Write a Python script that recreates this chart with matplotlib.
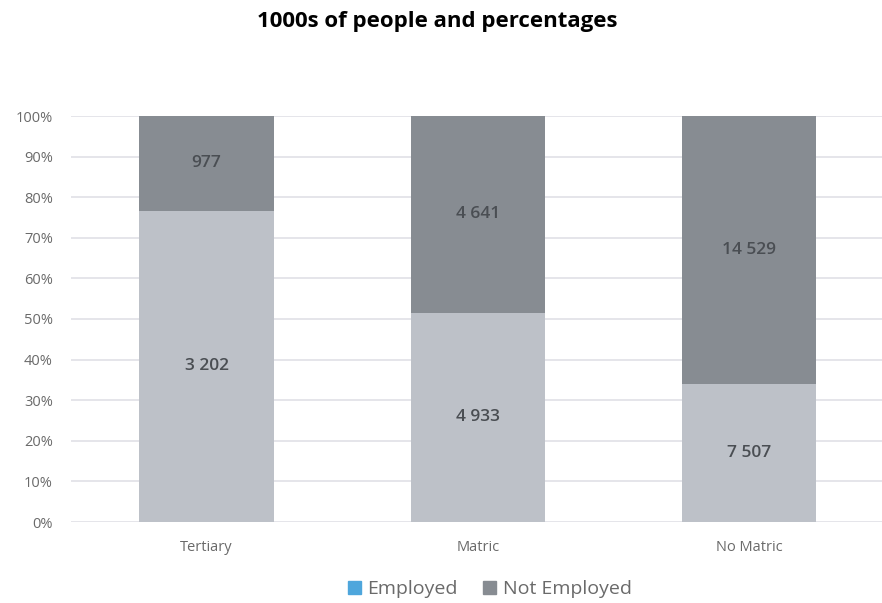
"""Employment by education level, 100% stacked bars."""
import matplotlib.pyplot as plt
import numpy as np
from matplotlib.patches import Patch

plt.rcParams["font.family"] = ["Open Sans", "DejaVu Sans"]

categories = ["Tertiary", "Matric", "No Matric"]
employed = [3202, 4933, 7507]
not_employed = [977, 4641, 14529]

COLOR_EMPLOYED = "#bdc1c8"
COLOR_NOT_EMPLOYED = "#878c92"
COLOR_LEGEND_EMPLOYED = "#4ea6dc"
COLOR_GRID = "#e0e0e6"


def fmt_thousands(v: int) -> str:
    return f"{v:,}".replace(",", " ")


emp = np.array(employed, dtype=float)
nemp = np.array(not_employed, dtype=float)
total = emp + nemp
emp_share = emp / total
nemp_share = nemp / total

fig = plt.figure(figsize=(8.82, 6.03), dpi=100)
ax = fig.add_axes([71 / 882, 81 / 603, 811 / 882, 406 / 603])

x_pos = np.arange(len(categories))
width = 0.495
ax.bar(x_pos, emp_share, width, color=COLOR_EMPLOYED, zorder=2)
ax.bar(x_pos, nemp_share, width, bottom=emp_share, color=COLOR_NOT_EMPLOYED, zorder=2)

for i in range(len(categories)):
    ax.text(x_pos[i], emp_share[i] / 2, fmt_thousands(employed[i]), ha="center", va="center",
            fontsize=12.5, fontweight="semibold", color="#4a4e53", zorder=3)
    ax.text(x_pos[i], emp_share[i] + nemp_share[i] / 2, fmt_thousands(not_employed[i]), ha="center",
            va="center", fontsize=12.5, fontweight="semibold", color="#4a4e53", zorder=3)

ax.set_ylim(0, 1)
ax.set_xlim(-0.5, 2.49)
ax.set_yticks(np.linspace(0, 1, 11))
ax.set_yticklabels([f"{int(round(t * 100))}%" for t in np.linspace(0, 1, 11)])
ax.set_xticks(x_pos)
ax.set_xticklabels(categories)
ax.tick_params(axis="both", length=0, colors="#6a6a6a")
ax.tick_params(axis="y", labelsize=10.5, pad=13)
ax.tick_params(axis="x", labelsize=10.5, pad=13)
ax.grid(axis="y", color=COLOR_GRID, linewidth=1.2, zorder=0)
for s in ax.spines.values():
    s.set_visible(False)

fig.text(437 / 882, 1 - 21 / 603, "1000s of people and percentages", ha="center", va="center",
         fontsize=16, fontweight="bold")

handles = [Patch(color=COLOR_LEGEND_EMPLOYED, label="Employed"),
           Patch(color=COLOR_NOT_EMPLOYED, label="Not Employed")]
fig.legend(handles=handles, loc="center", bbox_to_anchor=(490 / 882, 1 - 589 / 603), ncol=2,
           frameon=False, fontsize=14, handlelength=0.65, handleheight=0.65, handletextpad=0.35,
           columnspacing=1.3, labelcolor="#6a6a6a", borderpad=0)

fig.savefig("out.png", dpi=100)
